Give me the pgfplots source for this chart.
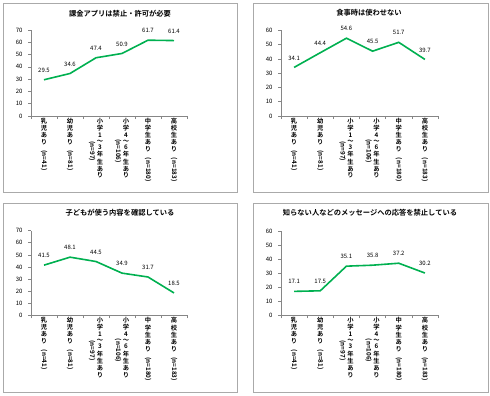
\documentclass[border=0pt]{standalone}
\usepackage{fontspec}
\setmainfont{Noto Sans CJK JP}[BoldFont={Noto Sans CJK JP Bold}]
\usepackage{graphicx}
\usepackage{pgfplots}
\pgfplotsset{compat=1.18}

\definecolor{lg}{RGB}{0,176,80}
\definecolor{axgray}{RGB}{134,134,134}
\definecolor{framegray}{RGB}{170,170,170}

\newcommand{\vc}[1]{\begin{tabular}[c]{@{}c@{}}#1\end{tabular}}
\newcommand{\rn}[1]{\rotatebox{-90}{#1}}

\pgfplotsset{
  ln/.style={color=lg, line width=1.6bp, mark=none},
  panel/.style={
    scale only axis, width=156bp,
    xmin=0, xmax=6, ymin=0,
    axis x line=bottom, axis y line=left,
    axis line style={draw=axgray,-},
    every tick/.style={draw=axgray, line width=0.6pt},
    tick align=outside, major tick length=3bp,
    xtick={0,...,6}, xticklabels={},
    extra x ticks={0.5,1.5,2.5,3.5,4.5,5.5},
    extra x tick labels={
      {\vc{乳\\児\\あ\\り\\\rn{(n=41)}}},
      {\vc{幼\\児\\あ\\り\\\rn{(n=81)}}},
      {\vc{\rn{(n=97)}}\hspace{1.5pt}\vc{小\\学\\1\\～\\3\\年\\生\\あ\\り}},
      {\vc{\rn{(n=106)}}\hspace{1.5pt}\vc{小\\学\\4\\～\\6\\年\\生\\あ\\り}},
      {\vc{中\\学\\生\\あ\\り\\\rn{(n=180)}}},
      {\vc{高\\校\\生\\あ\\り\\\rn{(n=183)}}}},
    extra x tick style={major tick length=0pt,
      tick label style={anchor=north, yshift=-1bp, inner sep=1pt,
        font=\bfseries\fontsize{6.3}{6.2}\selectfont}},
    ytick distance=10,
    yticklabel style={font=\fontsize{6}{7}\selectfont, xshift=-2bp},
    /pgf/number format/assume math mode=true,
    /pgf/number format/.cd, fixed, precision=1, fixed zerofill, /pgfplots/.cd,
    nodes near coords,
    every node near coord/.append style={font=\fontsize{6}{7}\selectfont, inner sep=0pt, yshift=6.5bp, text=black},
    yticklabel={\pgfmathprintnumber[fixed,precision=0]{\tick}},
  },
}

\begin{document}
\begin{tikzpicture}
\path (0,0) rectangle (490bp,-396bp);
\draw[framegray, line width=1bp] (3bp,-3bp) rectangle (237bp,-192bp);
\draw[framegray, line width=1bp] (253bp,-3bp) rectangle (488bp,-192bp);
\draw[framegray, line width=1bp] (3bp,-203bp) rectangle (237bp,-392bp);
\draw[framegray, line width=1bp] (253bp,-203bp) rectangle (488bp,-392bp);

\node[font=\bfseries\fontsize{7.3}{8}\selectfont] at (120bp,-14bp) {課金アプリは禁止・許可が必要};
\node[font=\bfseries\fontsize{7.3}{8}\selectfont] at (369bp,-13bp) {食事時は使わせない};
\node[font=\bfseries\fontsize{7.3}{8}\selectfont] at (120bp,-213bp) {子どもが使う内容を確認している};
\node[font=\bfseries\fontsize{7.3}{8}\selectfont] at (370bp,-213bp) {知らない人などのメッセージへの応答を禁止している};

\begin{axis}[panel, at={(31bp,-116bp)}, anchor=south west, height=86bp, ymax=70]
\addplot[ln] coordinates {(0.5,29.5) (1.5,34.6) (2.5,47.4) (3.5,50.9) (4.5,61.7) (5.5,61.4)};
\end{axis}

\begin{axis}[panel, at={(281bp,-116bp)}, anchor=south west, width=157bp, height=85.5bp, ymax=60]
\addplot[ln] coordinates {(0.5,34.1) (1.5,44.4) (2.5,54.6) (3.5,45.5) (4.5,51.7) (5.5,39.7)};
\end{axis}

\begin{axis}[panel, at={(31bp,-315.3bp)}, anchor=south west, height=84.6bp, ymax=70]
\addplot[ln] coordinates {(0.5,41.5) (1.5,48.1) (2.5,44.5) (3.5,34.9) (4.5,31.7) (5.5,18.5)};
\end{axis}

\begin{axis}[panel, at={(281bp,-315.3bp)}, anchor=south west, width=157bp, height=84bp, ymax=60]
\addplot[ln] coordinates {(0.5,17.1) (1.5,17.5) (2.5,35.1) (3.5,35.8) (4.5,37.2) (5.5,30.2)};
\end{axis}
\end{tikzpicture}
\end{document}
